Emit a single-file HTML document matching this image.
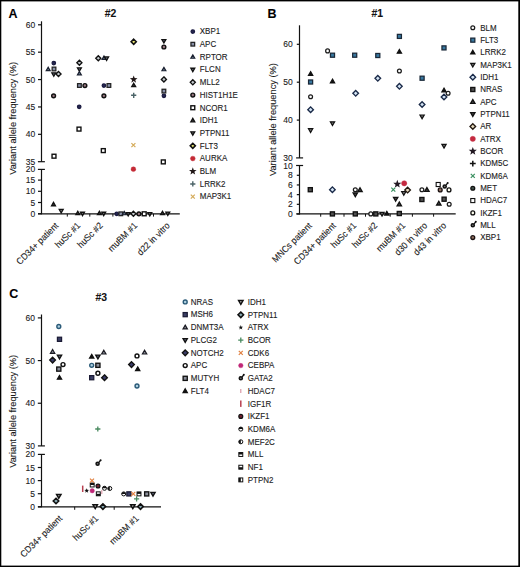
<!DOCTYPE html>
<html><head><meta charset="utf-8"><style>
html,body{margin:0;padding:0;background:#fff;}
svg{display:block;font-family:"Liberation Sans", sans-serif;}
text{stroke:#1a1a1a;stroke-width:0.1px;}
</style></head><body>
<svg width="520" height="567" viewBox="0 0 520 567">
<rect x="0" y="0" width="520" height="567" fill="#fff"/>
<text x="0" y="0" font-size="12.5" text-anchor="start" font-weight="bold" fill="#000" transform="translate(8.6 17.6) scale(1 1.07)">A</text>
<text x="0" y="0" font-size="10.4" text-anchor="middle" font-weight="bold" fill="#111" transform="translate(110.5 16.9) scale(1 1.07)">#2</text>
<path d="M41.5 21.3L41.5 161.7" stroke="#111" stroke-width="1.2" fill="none"/>
<path d="M41.5 169.4L41.5 214.3" stroke="#111" stroke-width="1.2" fill="none"/>
<path d="M37.9 161.7L44.9 161.7" stroke="#111" stroke-width="1.2" fill="none"/>
<path d="M37.9 169.4L44.9 169.4" stroke="#111" stroke-width="1.2" fill="none"/>
<path d="M38 24.8L41.5 24.8" stroke="#111" stroke-width="1.2" fill="none"/>
<text x="0" y="0" font-size="8.5" text-anchor="end" fill="#1a1a1a" transform="translate(35.2 27.8) scale(1 1.07)">60</text>
<path d="M38 52.18L41.5 52.18" stroke="#111" stroke-width="1.2" fill="none"/>
<text x="0" y="0" font-size="8.5" text-anchor="end" fill="#1a1a1a" transform="translate(35.2 55.18) scale(1 1.07)">55</text>
<path d="M38 79.56L41.5 79.56" stroke="#111" stroke-width="1.2" fill="none"/>
<text x="0" y="0" font-size="8.5" text-anchor="end" fill="#1a1a1a" transform="translate(35.2 82.56) scale(1 1.07)">50</text>
<path d="M38 106.94L41.5 106.94" stroke="#111" stroke-width="1.2" fill="none"/>
<text x="0" y="0" font-size="8.5" text-anchor="end" fill="#1a1a1a" transform="translate(35.2 109.94) scale(1 1.07)">45</text>
<path d="M38 134.32L41.5 134.32" stroke="#111" stroke-width="1.2" fill="none"/>
<text x="0" y="0" font-size="8.5" text-anchor="end" fill="#1a1a1a" transform="translate(35.2 137.32) scale(1 1.07)">40</text>
<text x="0" y="0" font-size="8.5" text-anchor="end" fill="#1a1a1a" transform="translate(35.2 164.7) scale(1 1.07)">35</text>
<text x="0" y="0" font-size="8.5" text-anchor="end" fill="#1a1a1a" transform="translate(35.2 172.4) scale(1 1.07)">20</text>
<path d="M38 180.1L41.5 180.1" stroke="#111" stroke-width="1.2" fill="none"/>
<text x="0" y="0" font-size="8.5" text-anchor="end" fill="#1a1a1a" transform="translate(35.2 183.1) scale(1 1.07)">15</text>
<path d="M38 191.3L41.5 191.3" stroke="#111" stroke-width="1.2" fill="none"/>
<text x="0" y="0" font-size="8.5" text-anchor="end" fill="#1a1a1a" transform="translate(35.2 194.3) scale(1 1.07)">10</text>
<path d="M38 202.5L41.5 202.5" stroke="#111" stroke-width="1.2" fill="none"/>
<text x="0" y="0" font-size="8.5" text-anchor="end" fill="#1a1a1a" transform="translate(35.2 205.5) scale(1 1.07)">5</text>
<path d="M38 213.7L41.5 213.7" stroke="#111" stroke-width="1.2" fill="none"/>
<text x="0" y="0" font-size="8.5" text-anchor="end" fill="#1a1a1a" transform="translate(35.2 216.7) scale(1 1.07)">0</text>
<path d="M38 213.8L179.8 213.8" stroke="#111" stroke-width="1.35" fill="none"/>
<path d="M67.3 213.8L67.3 216.6" stroke="#111" stroke-width="1.0" fill="none"/>
<path d="M89.8 213.8L89.8 216.6" stroke="#111" stroke-width="1.0" fill="none"/>
<path d="M112.9 213.8L112.9 216.6" stroke="#111" stroke-width="1.0" fill="none"/>
<path d="M153.5 213.8L153.5 216.6" stroke="#111" stroke-width="1.0" fill="none"/>
<text x="0" y="0" font-size="9.27" text-anchor="middle" fill="#1a1a1a" transform="translate(16.3 118.3) rotate(-90) scale(1 1.07)">Variant allele frequency (%)</text>
<text x="0" y="0" font-size="8.6" text-anchor="end" fill="#1a1a1a" transform="translate(59 226.2) rotate(-45) scale(1 1.07)">CD34+ patient</text>
<text x="0" y="0" font-size="8.6" text-anchor="end" fill="#1a1a1a" transform="translate(81 226.2) rotate(-45) scale(1 1.07)">huSc #1</text>
<text x="0" y="0" font-size="8.6" text-anchor="end" fill="#1a1a1a" transform="translate(103.3 226.2) rotate(-45) scale(1 1.07)">huSc #2</text>
<text x="0" y="0" font-size="8.6" text-anchor="end" fill="#1a1a1a" transform="translate(137.8 226.2) rotate(-45) scale(1 1.07)">muBM #1</text>
<text x="0" y="0" font-size="8.6" text-anchor="end" fill="#1a1a1a" transform="translate(170.5 226.2) rotate(-45) scale(1 1.07)">d22 in vitro</text>
<circle cx="192.8" cy="31.5" r="1.75" fill="#262850" stroke="#1a1a40" stroke-width="1.25"/>
<text x="0" y="0" font-size="8.0" text-anchor="start" fill="#1a1a1a" transform="translate(199.8 34.3) scale(1 1.07)">XBP1</text>
<rect x="190.95" y="42.35" width="3.7" height="3.7" fill="#8890a8" stroke="#222" stroke-width="1.25"/>
<text x="0" y="0" font-size="8.0" text-anchor="start" fill="#1a1a1a" transform="translate(199.8 47) scale(1 1.07)">APC</text>
<polygon points="192.8,54.88 194.75,58.26 190.85,58.26" fill="#6e8090" stroke="#1a2030" stroke-width="1.2" stroke-linejoin="miter"/>
<text x="0" y="0" font-size="8.0" text-anchor="start" fill="#1a1a1a" transform="translate(199.8 59.71) scale(1 1.07)">RPTOR</text>
<polygon points="192.8,71.64 194.75,68.26 190.85,68.26" fill="#6a7282" stroke="#111" stroke-width="1.3"/>
<text x="0" y="0" font-size="8.0" text-anchor="start" fill="#1a1a1a" transform="translate(199.8 72.42) scale(1 1.07)">FLCN</text>
<polygon points="192.8,79.77 195.35,82.32 192.8,84.87 190.25,82.32" fill="#c4cace" stroke="#111" stroke-width="1.35"/>
<text x="0" y="0" font-size="8.0" text-anchor="start" fill="#1a1a1a" transform="translate(199.8 85.12) scale(1 1.07)">MLL2</text>
<circle cx="192.8" cy="95.03" r="1.9" fill="#987880" stroke="#111" stroke-width="1.45"/>
<text x="0" y="0" font-size="8.0" text-anchor="start" fill="#1a1a1a" transform="translate(199.8 97.83) scale(1 1.07)">HIST1H1E</text>
<rect x="190.85" y="105.78" width="3.9" height="3.9" fill="#fff" stroke="#111" stroke-width="1.4"/>
<text x="0" y="0" font-size="8.0" text-anchor="start" fill="#1a1a1a" transform="translate(199.8 110.53) scale(1 1.07)">NCOR1</text>
<polygon points="192.8,118.41 194.75,121.79 190.85,121.79" fill="#333" stroke="#111" stroke-width="1.3" stroke-linejoin="miter"/>
<text x="0" y="0" font-size="8.0" text-anchor="start" fill="#1a1a1a" transform="translate(199.8 123.23) scale(1 1.07)">IDH1</text>
<polygon points="192.8,135.17 194.75,131.79 190.85,131.79" fill="#777" stroke="#111" stroke-width="1.3"/>
<text x="0" y="0" font-size="8.0" text-anchor="start" fill="#1a1a1a" transform="translate(199.8 135.94) scale(1 1.07)">PTPN11</text>
<polygon points="192.8,143.29 195.35,145.84 192.8,148.4 190.25,145.84" fill="#e8e470" stroke="#111" stroke-width="1.6"/>
<text x="0" y="0" font-size="8.0" text-anchor="start" fill="#1a1a1a" transform="translate(199.8 148.65) scale(1 1.07)">FLT3</text>
<circle cx="192.8" cy="158.55" r="2.4" fill="#c42a36" stroke="#c42a36" stroke-width="0.4"/>
<text x="0" y="0" font-size="8.0" text-anchor="start" fill="#1a1a1a" transform="translate(199.8 161.35) scale(1 1.07)">AURKA</text>
<polygon points="192.8,167.25 193.79,169.9 196.6,170.02 194.4,171.77 195.15,174.49 192.8,172.94 190.45,174.49 191.2,171.77 189,170.02 191.81,169.9" fill="#221818"/>
<text x="0" y="0" font-size="8.0" text-anchor="start" fill="#1a1a1a" transform="translate(199.8 174.06) scale(1 1.07)">BLM</text>
<path d="M190.2 183.96H195.4M192.8 181.36V186.56" stroke="#4c6468" stroke-width="1.4" fill="none"/>
<text x="0" y="0" font-size="8.0" text-anchor="start" fill="#1a1a1a" transform="translate(199.8 186.76) scale(1 1.07)">LRRK2</text>
<path d="M190.8 194.66L194.8 198.66M190.8 198.66L194.8 194.66" stroke="#d4aa58" stroke-width="1.2" fill="none"/>
<text x="0" y="0" font-size="8.0" text-anchor="start" fill="#1a1a1a" transform="translate(199.8 199.47) scale(1 1.07)">MAP3K1</text>
<circle cx="53.8" cy="63" r="1.75" fill="#262850" stroke="#1a1a40" stroke-width="1.25"/>
<polygon points="48.2,67.27 50.15,70.65 46.25,70.65" fill="#6e8090" stroke="#1a2030" stroke-width="1.2" stroke-linejoin="miter"/>
<rect x="52.15" y="67.15" width="3.7" height="3.7" fill="#8890a8" stroke="#222" stroke-width="1.25"/>
<polygon points="53.8,76.23 55.75,72.85 51.85,72.85" fill="#6a7282" stroke="#111" stroke-width="1.3"/>
<polygon points="58.5,71.45 61.05,74 58.5,76.55 55.95,74" fill="#c4cace" stroke="#111" stroke-width="1.35"/>
<circle cx="53.6" cy="95.8" r="1.9" fill="#987880" stroke="#111" stroke-width="1.45"/>
<rect x="52.05" y="154.25" width="3.9" height="3.9" fill="#fff" stroke="#111" stroke-width="1.4"/>
<polygon points="53.5,202.37 55.45,205.75 51.55,205.75" fill="#333" stroke="#111" stroke-width="1.3" stroke-linejoin="miter"/>
<polygon points="61.2,212.83 63.15,209.45 59.25,209.45" fill="#777" stroke="#111" stroke-width="1.3"/>
<polygon points="79.4,60.15 81.95,62.7 79.4,65.25 76.85,62.7" fill="#c4cace" stroke="#111" stroke-width="1.35"/>
<polygon points="79.4,71.23 81.35,67.85 77.45,67.85" fill="#6a7282" stroke="#111" stroke-width="1.3"/>
<polygon points="79.4,71.47 81.35,74.85 77.45,74.85" fill="#6e8090" stroke="#1a2030" stroke-width="1.2" stroke-linejoin="miter"/>
<rect x="77.55" y="83.65" width="3.7" height="3.7" fill="#8890a8" stroke="#222" stroke-width="1.25"/>
<circle cx="84.9" cy="85.5" r="1.9" fill="#987880" stroke="#111" stroke-width="1.45"/>
<circle cx="79.2" cy="106.8" r="1.75" fill="#262850" stroke="#1a1a40" stroke-width="1.25"/>
<rect x="77.05" y="127.15" width="3.9" height="3.9" fill="#fff" stroke="#111" stroke-width="1.4"/>
<polygon points="77.8,211.27 79.75,214.65 75.85,214.65" fill="#333" stroke="#111" stroke-width="1.3" stroke-linejoin="miter"/>
<polygon points="82.5,215.63 84.45,212.25 80.55,212.25" fill="#777" stroke="#111" stroke-width="1.3"/>
<polygon points="98.3,55.65 100.85,58.2 98.3,60.75 95.75,58.2" fill="#c4cace" stroke="#111" stroke-width="1.35"/>
<polygon points="104,55.97 105.95,59.35 102.05,59.35" fill="#6e8090" stroke="#1a2030" stroke-width="1.2" stroke-linejoin="miter"/>
<polygon points="106.6,60.33 108.55,56.95 104.65,56.95" fill="#6a7282" stroke="#111" stroke-width="1.3"/>
<circle cx="103.9" cy="85.5" r="1.75" fill="#262850" stroke="#1a1a40" stroke-width="1.25"/>
<rect x="107.05" y="83.65" width="3.7" height="3.7" fill="#8890a8" stroke="#222" stroke-width="1.25"/>
<circle cx="103.9" cy="95.8" r="1.9" fill="#987880" stroke="#111" stroke-width="1.45"/>
<rect x="101.35" y="148.65" width="3.9" height="3.9" fill="#fff" stroke="#111" stroke-width="1.4"/>
<polygon points="99.4,211.27 101.35,214.65 97.45,214.65" fill="#333" stroke="#111" stroke-width="1.3" stroke-linejoin="miter"/>
<polygon points="103.7,215.63 105.65,212.25 101.75,212.25" fill="#777" stroke="#111" stroke-width="1.3"/>
<polygon points="133.7,39.25 136.25,41.8 133.7,44.35 131.15,41.8" fill="#e8e470" stroke="#111" stroke-width="1.6"/>
<polygon points="133.7,75.4 134.69,78.04 137.5,78.16 135.3,79.92 136.05,82.64 133.7,81.08 131.35,82.64 132.1,79.92 129.9,78.16 132.71,78.04" fill="#221818"/>
<polygon points="133.7,83.27 135.65,86.65 131.75,86.65" fill="#333" stroke="#111" stroke-width="1.3" stroke-linejoin="miter"/>
<path d="M131.1 95.3H136.3M133.7 92.7V97.9" stroke="#4c6468" stroke-width="1.4" fill="none"/>
<path d="M131.4 143.2L135.4 147.2M131.4 147.2L135.4 143.2" stroke="#d4aa58" stroke-width="1.2" fill="none"/>
<circle cx="133.4" cy="169.2" r="2.4" fill="#c42a36" stroke="#c42a36" stroke-width="0.4"/>
<circle cx="116.7" cy="213.8" r="1.75" fill="#262850" stroke="#1a1a40" stroke-width="1.25"/>
<rect x="118.95" y="211.95" width="3.7" height="3.7" fill="#8890a8" stroke="#222" stroke-width="1.25"/>
<polygon points="124.2,211.37 126.15,214.75 122.25,214.75" fill="#6e8090" stroke="#1a2030" stroke-width="1.2" stroke-linejoin="miter"/>
<polygon points="128.2,215.93 130.15,212.55 126.25,212.55" fill="#6a7282" stroke="#111" stroke-width="1.3"/>
<polygon points="133.4,211.25 135.95,213.8 133.4,216.35 130.85,213.8" fill="#c4cace" stroke="#111" stroke-width="1.35"/>
<circle cx="138.9" cy="213.8" r="1.9" fill="#987880" stroke="#111" stroke-width="1.45"/>
<rect x="142.25" y="211.85" width="3.9" height="3.9" fill="#fff" stroke="#111" stroke-width="1.4"/>
<polygon points="149.8,215.93 151.75,212.55 147.85,212.55" fill="#777" stroke="#111" stroke-width="1.3"/>
<polygon points="163.9,42.93 165.85,39.55 161.95,39.55" fill="#6a7282" stroke="#111" stroke-width="1.3"/>
<circle cx="163.9" cy="47" r="1.9" fill="#987880" stroke="#111" stroke-width="1.45"/>
<polygon points="163.9,67.37 165.85,70.75 161.95,70.75" fill="#6e8090" stroke="#1a2030" stroke-width="1.2" stroke-linejoin="miter"/>
<polygon points="163.9,76.85 166.45,79.4 163.9,81.95 161.35,79.4" fill="#c4cace" stroke="#111" stroke-width="1.35"/>
<rect x="162.05" y="89.25" width="3.7" height="3.7" fill="#8890a8" stroke="#222" stroke-width="1.25"/>
<circle cx="163.9" cy="95.8" r="1.75" fill="#262850" stroke="#1a1a40" stroke-width="1.25"/>
<rect x="161.35" y="159.95" width="3.9" height="3.9" fill="#fff" stroke="#111" stroke-width="1.4"/>
<polygon points="162.5,211.27 164.45,214.65 160.55,214.65" fill="#333" stroke="#111" stroke-width="1.3" stroke-linejoin="miter"/>
<polygon points="167.8,215.43 169.75,212.05 165.85,212.05" fill="#777" stroke="#111" stroke-width="1.3"/>
<text x="0" y="0" font-size="12.5" text-anchor="start" font-weight="bold" fill="#000" transform="translate(267.6 18.3) scale(1 1.07)">B</text>
<text x="0" y="0" font-size="10.4" text-anchor="middle" font-weight="bold" fill="#111" transform="translate(377.2 17) scale(1 1.07)">#1</text>
<path d="M299.5 25.3L299.5 157.9" stroke="#111" stroke-width="1.2" fill="none"/>
<path d="M299.5 165.6L299.5 214.5" stroke="#111" stroke-width="1.2" fill="none"/>
<path d="M296.1 157.9L303.1 157.9" stroke="#111" stroke-width="1.2" fill="none"/>
<path d="M296.1 165.5L303.1 165.5" stroke="#111" stroke-width="1.2" fill="none"/>
<path d="M296.8 44.3L299.5 44.3" stroke="#111" stroke-width="1.2" fill="none"/>
<text x="0" y="0" font-size="8.5" text-anchor="end" fill="#1a1a1a" transform="translate(292.8 47.3) scale(1 1.07)">60</text>
<path d="M296.8 82.2L299.5 82.2" stroke="#111" stroke-width="1.2" fill="none"/>
<text x="0" y="0" font-size="8.5" text-anchor="end" fill="#1a1a1a" transform="translate(292.8 85.2) scale(1 1.07)">50</text>
<path d="M296.8 120.1L299.5 120.1" stroke="#111" stroke-width="1.2" fill="none"/>
<text x="0" y="0" font-size="8.5" text-anchor="end" fill="#1a1a1a" transform="translate(292.8 123.1) scale(1 1.07)">40</text>
<text x="0" y="0" font-size="8.5" text-anchor="end" fill="#1a1a1a" transform="translate(292.8 160.9) scale(1 1.07)">30</text>
<text x="0" y="0" font-size="8.5" text-anchor="end" fill="#1a1a1a" transform="translate(292.8 168.5) scale(1 1.07)">10</text>
<path d="M296.8 175.28L299.5 175.28" stroke="#111" stroke-width="1.2" fill="none"/>
<text x="0" y="0" font-size="8.5" text-anchor="end" fill="#1a1a1a" transform="translate(292.8 178.28) scale(1 1.07)">8</text>
<path d="M296.8 184.96L299.5 184.96" stroke="#111" stroke-width="1.2" fill="none"/>
<text x="0" y="0" font-size="8.5" text-anchor="end" fill="#1a1a1a" transform="translate(292.8 187.96) scale(1 1.07)">6</text>
<path d="M296.8 194.64L299.5 194.64" stroke="#111" stroke-width="1.2" fill="none"/>
<text x="0" y="0" font-size="8.5" text-anchor="end" fill="#1a1a1a" transform="translate(292.8 197.64) scale(1 1.07)">4</text>
<path d="M296.8 204.32L299.5 204.32" stroke="#111" stroke-width="1.2" fill="none"/>
<text x="0" y="0" font-size="8.5" text-anchor="end" fill="#1a1a1a" transform="translate(292.8 207.32) scale(1 1.07)">2</text>
<path d="M296.8 214L299.5 214" stroke="#111" stroke-width="1.2" fill="none"/>
<text x="0" y="0" font-size="8.5" text-anchor="end" fill="#1a1a1a" transform="translate(292.8 217) scale(1 1.07)">0</text>
<path d="M296.2 213.8L455.7 213.8" stroke="#111" stroke-width="1.35" fill="none"/>
<path d="M320.7 213.9L320.7 216.7" stroke="#111" stroke-width="1.0" fill="none"/>
<path d="M344 213.9L344 216.7" stroke="#111" stroke-width="1.0" fill="none"/>
<path d="M365.5 213.9L365.5 216.7" stroke="#111" stroke-width="1.0" fill="none"/>
<path d="M390.2 213.9L390.2 216.7" stroke="#111" stroke-width="1.0" fill="none"/>
<path d="M412.4 213.9L412.4 216.7" stroke="#111" stroke-width="1.0" fill="none"/>
<path d="M433.6 213.9L433.6 216.7" stroke="#111" stroke-width="1.0" fill="none"/>
<text x="0" y="0" font-size="9.27" text-anchor="middle" fill="#1a1a1a" transform="translate(275.7 119.6) rotate(-90) scale(1 1.07)">Variant allele frequency (%)</text>
<text x="0" y="0" font-size="8.6" text-anchor="end" fill="#1a1a1a" transform="translate(312.5 226.2) rotate(-45) scale(1 1.07)">MNCs patient</text>
<text x="0" y="0" font-size="8.6" text-anchor="end" fill="#1a1a1a" transform="translate(336.5 226.2) rotate(-45) scale(1 1.07)">CD34+ patient</text>
<text x="0" y="0" font-size="8.6" text-anchor="end" fill="#1a1a1a" transform="translate(356.8 226.2) rotate(-45) scale(1 1.07)">huSc #1</text>
<text x="0" y="0" font-size="8.6" text-anchor="end" fill="#1a1a1a" transform="translate(378 226.2) rotate(-45) scale(1 1.07)">huSc #2</text>
<text x="0" y="0" font-size="8.6" text-anchor="end" fill="#1a1a1a" transform="translate(406 226.2) rotate(-45) scale(1 1.07)">muBM #1</text>
<text x="0" y="0" font-size="8.6" text-anchor="end" fill="#1a1a1a" transform="translate(428 226.2) rotate(-45) scale(1 1.07)">d30 in vitro</text>
<text x="0" y="0" font-size="8.6" text-anchor="end" fill="#1a1a1a" transform="translate(446.8 226.2) rotate(-45) scale(1 1.07)">d43 in vitro</text>
<circle cx="472.8" cy="27.8" r="1.93" fill="#fff" stroke="#1a1a1a" stroke-width="1.25"/>
<text x="0" y="0" font-size="8.0" text-anchor="start" fill="#1a1a1a" transform="translate(480.2 30.6) scale(1 1.07)">BLM</text>
<rect x="470.76" y="38.11" width="4.07" height="4.07" fill="#3878a0" stroke="#1a2838" stroke-width="1.25"/>
<text x="0" y="0" font-size="8.0" text-anchor="start" fill="#1a1a1a" transform="translate(480.2 42.94) scale(1 1.07)">FLT3</text>
<polygon points="472.8,50.25 474.94,53.97 470.66,53.97" fill="#111" stroke="#111" stroke-width="1.2" stroke-linejoin="miter"/>
<text x="0" y="0" font-size="8.0" text-anchor="start" fill="#1a1a1a" transform="translate(480.2 55.28) scale(1 1.07)">LRRK2</text>
<polygon points="472.8,67.05 474.94,63.33 470.66,63.33" fill="#707070" stroke="#111" stroke-width="1.2"/>
<text x="0" y="0" font-size="8.0" text-anchor="start" fill="#1a1a1a" transform="translate(480.2 67.62) scale(1 1.07)">MAP3K1</text>
<polygon points="472.8,74.35 475.61,77.16 472.8,79.97 470,77.16" fill="#d4e4f4" stroke="#1a2a48" stroke-width="1.35"/>
<text x="0" y="0" font-size="8.0" text-anchor="start" fill="#1a1a1a" transform="translate(480.2 79.96) scale(1 1.07)">IDH1</text>
<rect x="470.76" y="87.47" width="4.07" height="4.07" fill="#505050" stroke="#111" stroke-width="1.35"/>
<text x="0" y="0" font-size="8.0" text-anchor="start" fill="#1a1a1a" transform="translate(480.2 92.3) scale(1 1.07)">NRAS</text>
<polygon points="472.8,99.61 474.94,103.33 470.66,103.33" fill="#4a4a4a" stroke="#111" stroke-width="1.35" stroke-linejoin="miter"/>
<text x="0" y="0" font-size="8.0" text-anchor="start" fill="#1a1a1a" transform="translate(480.2 104.64) scale(1 1.07)">APC</text>
<polygon points="472.8,116.41 474.94,112.69 470.66,112.69" fill="#4a4a4a" stroke="#111" stroke-width="1.35"/>
<text x="0" y="0" font-size="8.0" text-anchor="start" fill="#1a1a1a" transform="translate(480.2 116.98) scale(1 1.07)">PTPN11</text>
<polygon points="472.8,123.71 475.61,126.52 472.8,129.32 470,126.52" fill="#e8dcc0" stroke="#221810" stroke-width="1.35"/>
<text x="0" y="0" font-size="8.0" text-anchor="start" fill="#1a1a1a" transform="translate(480.2 129.32) scale(1 1.07)">AR</text>
<circle cx="472.8" cy="138.86" r="2.64" fill="#c42a40" stroke="#c42a40" stroke-width="0.4"/>
<text x="0" y="0" font-size="8.0" text-anchor="start" fill="#1a1a1a" transform="translate(480.2 141.66) scale(1 1.07)">ATRX</text>
<polygon points="472.8,146.91 473.86,149.74 476.88,149.87 474.51,151.76 475.32,154.67 472.8,153 470.28,154.67 471.09,151.76 468.72,149.87 471.74,149.74" fill="#221822"/>
<text x="0" y="0" font-size="8.0" text-anchor="start" fill="#1a1a1a" transform="translate(480.2 154) scale(1 1.07)">BCOR</text>
<path d="M469.9 163.54H475.7M472.8 160.64V166.44" stroke="#111" stroke-width="1.5" fill="none"/>
<text x="0" y="0" font-size="8.0" text-anchor="start" fill="#1a1a1a" transform="translate(480.2 166.34) scale(1 1.07)">KDM5C</text>
<path d="M470.8 173.88L474.8 177.88M470.8 177.88L474.8 173.88" stroke="#3a9060" stroke-width="1.2" fill="none"/>
<text x="0" y="0" font-size="8.0" text-anchor="start" fill="#1a1a1a" transform="translate(480.2 178.68) scale(1 1.07)">KDM6A</text>
<circle cx="472.8" cy="188.22" r="1.93" fill="#40504a" stroke="#111" stroke-width="1.3"/>
<text x="0" y="0" font-size="8.0" text-anchor="start" fill="#1a1a1a" transform="translate(480.2 191.02) scale(1 1.07)">MET</text>
<rect x="470.76" y="198.53" width="4.07" height="4.07" fill="#fff" stroke="#111" stroke-width="1.1"/>
<text x="0" y="0" font-size="8.0" text-anchor="start" fill="#1a1a1a" transform="translate(480.2 203.36) scale(1 1.07)">HDAC7</text>
<circle cx="472.8" cy="212.9" r="1.93" fill="#fffff0" stroke="#111" stroke-width="1.3"/>
<text x="0" y="0" font-size="8.0" text-anchor="start" fill="#1a1a1a" transform="translate(480.2 215.7) scale(1 1.07)">IKZF1</text>
<circle cx="472.8" cy="225.24" r="1.55" fill="#777" stroke="#111" stroke-width="1.5"/>
<path d="M474.1 223.94L475.7 221.84" stroke="#111" stroke-width="1.3"/>
<circle cx="475.8" cy="221.74" r="1.0" fill="#111"/>
<text x="0" y="0" font-size="8.0" text-anchor="start" fill="#1a1a1a" transform="translate(480.2 228.04) scale(1 1.07)">MLL</text>
<circle cx="472.8" cy="237.58" r="1.93" fill="#907060" stroke="#1a1010" stroke-width="1.3"/>
<text x="0" y="0" font-size="8.0" text-anchor="start" fill="#1a1a1a" transform="translate(480.2 240.38) scale(1 1.07)">XBP1</text>
<polygon points="310.6,71.67 312.75,75.39 308.46,75.39" fill="#111" stroke="#111" stroke-width="1.2" stroke-linejoin="miter"/>
<rect x="308.56" y="79.97" width="4.07" height="4.07" fill="#3878a0" stroke="#1a2838" stroke-width="1.25"/>
<circle cx="310.6" cy="96.7" r="1.93" fill="#fff" stroke="#1a1a1a" stroke-width="1.25"/>
<polygon points="310.6,106.89 313.41,109.7 310.6,112.51 307.8,109.7" fill="#d4e4f4" stroke="#1a2a48" stroke-width="1.35"/>
<polygon points="310.6,132.43 312.75,128.71 308.46,128.71" fill="#707070" stroke="#111" stroke-width="1.2"/>
<rect x="308.26" y="187.66" width="4.07" height="4.07" fill="#505050" stroke="#111" stroke-width="1.35"/>
<circle cx="327.6" cy="50.9" r="1.93" fill="#fff" stroke="#1a1a1a" stroke-width="1.25"/>
<rect x="330.46" y="53.17" width="4.07" height="4.07" fill="#3878a0" stroke="#1a2838" stroke-width="1.25"/>
<polygon points="332.5,79.17 334.64,82.89 330.36,82.89" fill="#111" stroke="#111" stroke-width="1.2" stroke-linejoin="miter"/>
<polygon points="332.5,125.53 334.64,121.81 330.36,121.81" fill="#707070" stroke="#111" stroke-width="1.2"/>
<polygon points="332.4,186.89 335.2,189.7 332.4,192.5 329.59,189.7" fill="#d4e4f4" stroke="#1a2a48" stroke-width="1.35"/>
<rect x="330.36" y="211.87" width="4.07" height="4.07" fill="#505050" stroke="#111" stroke-width="1.35"/>
<rect x="352.66" y="53.17" width="4.07" height="4.07" fill="#3878a0" stroke="#1a2838" stroke-width="1.25"/>
<polygon points="355.7,90.49 358.5,93.3 355.7,96.11 352.89,93.3" fill="#d4e4f4" stroke="#1a2a48" stroke-width="1.35"/>
<circle cx="355.3" cy="189.7" r="1.93" fill="#fff" stroke="#1a1a1a" stroke-width="1.25"/>
<polygon points="360,187.77 362.14,191.49 357.86,191.49" fill="#4a4a4a" stroke="#111" stroke-width="1.35" stroke-linejoin="miter"/>
<polygon points="355.3,196.73 357.44,193.01 353.16,193.01" fill="#4a4a4a" stroke="#111" stroke-width="1.35"/>
<rect x="353.26" y="211.87" width="4.07" height="4.07" fill="#505050" stroke="#111" stroke-width="1.35"/>
<rect x="375.76" y="53.47" width="4.07" height="4.07" fill="#3878a0" stroke="#1a2838" stroke-width="1.25"/>
<polygon points="377.8,75.49 380.61,78.3 377.8,81.11 375,78.3" fill="#d4e4f4" stroke="#1a2a48" stroke-width="1.35"/>
<circle cx="370.8" cy="213.9" r="1.93" fill="#fff" stroke="#1a1a1a" stroke-width="1.25"/>
<rect x="373.76" y="211.87" width="4.07" height="4.07" fill="#505050" stroke="#111" stroke-width="1.35"/>
<polygon points="382,216.13 384.14,212.41 379.86,212.41" fill="#707070" stroke="#111" stroke-width="1.2"/>
<polygon points="386.8,211.37 388.94,215.09 384.66,215.09" fill="#111" stroke="#111" stroke-width="1.2" stroke-linejoin="miter"/>
<rect x="397.36" y="34.36" width="4.07" height="4.07" fill="#3878a0" stroke="#1a2838" stroke-width="1.25"/>
<polygon points="399.4,49.47 401.54,53.19 397.25,53.19" fill="#111" stroke="#111" stroke-width="1.2" stroke-linejoin="miter"/>
<circle cx="399.4" cy="71" r="1.93" fill="#fff" stroke="#1a1a1a" stroke-width="1.25"/>
<polygon points="399.4,83.49 402.2,86.3 399.4,89.11 396.59,86.3" fill="#d4e4f4" stroke="#1a2a48" stroke-width="1.35"/>
<polygon points="397.3,179.81 398.36,182.64 401.38,182.77 399.01,184.66 399.82,187.57 397.3,185.9 394.78,187.57 395.59,184.66 393.22,182.77 396.24,182.64" fill="#221822"/>
<circle cx="404.2" cy="183.3" r="2.64" fill="#c42a40" stroke="#c42a40" stroke-width="0.4"/>
<path d="M391.3 187.7L395.3 191.7M391.3 191.7L395.3 187.7" stroke="#3a9060" stroke-width="1.2" fill="none"/>
<polygon points="403.8,195.23 405.94,191.51 401.66,191.51" fill="#707070" stroke="#111" stroke-width="1.2"/>
<polygon points="407.6,187.29 410.41,190.1 407.6,192.91 404.8,190.1" fill="#e8dcc0" stroke="#221810" stroke-width="1.35"/>
<polygon points="395.7,201.03 397.84,197.31 393.56,197.31" fill="#4a4a4a" stroke="#111" stroke-width="1.35"/>
<polygon points="399.3,202.17 401.44,205.89 397.16,205.89" fill="#4a4a4a" stroke="#111" stroke-width="1.35" stroke-linejoin="miter"/>
<rect x="397.26" y="211.47" width="4.07" height="4.07" fill="#505050" stroke="#111" stroke-width="1.35"/>
<rect x="420.06" y="76.17" width="4.07" height="4.07" fill="#3878a0" stroke="#1a2838" stroke-width="1.25"/>
<polygon points="422.1,101.69 424.91,104.5 422.1,107.31 419.3,104.5" fill="#d4e4f4" stroke="#1a2a48" stroke-width="1.35"/>
<polygon points="422.1,118.73 424.25,115.01 419.96,115.01" fill="#707070" stroke="#111" stroke-width="1.2"/>
<circle cx="421.9" cy="189.7" r="1.93" fill="#fff" stroke="#1a1a1a" stroke-width="1.25"/>
<polygon points="426.9,187.67 429.04,191.39 424.75,191.39" fill="#4a4a4a" stroke="#111" stroke-width="1.35" stroke-linejoin="miter"/>
<rect x="419.86" y="197.47" width="4.07" height="4.07" fill="#505050" stroke="#111" stroke-width="1.35"/>
<rect x="441.96" y="45.86" width="4.07" height="4.07" fill="#3878a0" stroke="#1a2838" stroke-width="1.25"/>
<polygon points="444,88.17 446.14,91.89 441.86,91.89" fill="#111" stroke="#111" stroke-width="1.2" stroke-linejoin="miter"/>
<circle cx="448.1" cy="93.3" r="1.93" fill="#fff" stroke="#1a1a1a" stroke-width="1.25"/>
<polygon points="444,94.19 446.81,97 444,99.81 441.19,97" fill="#d4e4f4" stroke="#1a2a48" stroke-width="1.35"/>
<polygon points="444,148.13 446.14,144.41 441.86,144.41" fill="#707070" stroke="#111" stroke-width="1.2"/>
<rect x="436.16" y="182.47" width="4.07" height="4.07" fill="#fff" stroke="#111" stroke-width="1.1"/>
<circle cx="440.2" cy="189.9" r="1.93" fill="#907060" stroke="#1a1010" stroke-width="1.3"/>
<circle cx="444.7" cy="186.5" r="1.55" fill="#777" stroke="#111" stroke-width="1.5"/>
<path d="M446 185.2L447.6 183.1" stroke="#111" stroke-width="1.3"/>
<circle cx="447.7" cy="183" r="1.0" fill="#111"/>
<circle cx="449" cy="189.9" r="1.93" fill="#fffff0" stroke="#111" stroke-width="1.3"/>
<polygon points="438.8,201.27 440.94,204.99 436.66,204.99" fill="#4a4a4a" stroke="#111" stroke-width="1.35" stroke-linejoin="miter"/>
<rect x="442.06" y="197.16" width="4.07" height="4.07" fill="#505050" stroke="#111" stroke-width="1.35"/>
<circle cx="449.2" cy="204.3" r="1.93" fill="#fff" stroke="#1a1a1a" stroke-width="1.25"/>
<text x="0" y="0" font-size="12.5" text-anchor="start" font-weight="bold" fill="#000" transform="translate(9.3 298.3) scale(1 1.07)">C</text>
<text x="0" y="0" font-size="10.4" text-anchor="middle" font-weight="bold" fill="#111" transform="translate(101.3 301.4) scale(1 1.07)">#3</text>
<path d="M41.5 314.5L41.5 445.9" stroke="#111" stroke-width="1.2" fill="none"/>
<path d="M41.5 454.4L41.5 507.2" stroke="#111" stroke-width="1.2" fill="none"/>
<path d="M37.9 445.9L44.9 445.9" stroke="#111" stroke-width="1.2" fill="none"/>
<path d="M37.9 454.4L44.9 454.4" stroke="#111" stroke-width="1.2" fill="none"/>
<path d="M37.8 317.9L41.5 317.9" stroke="#111" stroke-width="1.2" fill="none"/>
<text x="0" y="0" font-size="8.5" text-anchor="end" fill="#1a1a1a" transform="translate(35 320.9) scale(1 1.07)">60</text>
<path d="M37.8 360.57L41.5 360.57" stroke="#111" stroke-width="1.2" fill="none"/>
<text x="0" y="0" font-size="8.5" text-anchor="end" fill="#1a1a1a" transform="translate(35 363.57) scale(1 1.07)">50</text>
<path d="M37.8 403.24L41.5 403.24" stroke="#111" stroke-width="1.2" fill="none"/>
<text x="0" y="0" font-size="8.5" text-anchor="end" fill="#1a1a1a" transform="translate(35 406.24) scale(1 1.07)">40</text>
<text x="0" y="0" font-size="8.5" text-anchor="end" fill="#1a1a1a" transform="translate(35 448.9) scale(1 1.07)">30</text>
<text x="0" y="0" font-size="8.5" text-anchor="end" fill="#1a1a1a" transform="translate(35 457.4) scale(1 1.07)">20</text>
<path d="M37.8 467.5L41.5 467.5" stroke="#111" stroke-width="1.2" fill="none"/>
<text x="0" y="0" font-size="8.5" text-anchor="end" fill="#1a1a1a" transform="translate(35 470.5) scale(1 1.07)">15</text>
<path d="M37.8 480.6L41.5 480.6" stroke="#111" stroke-width="1.2" fill="none"/>
<text x="0" y="0" font-size="8.5" text-anchor="end" fill="#1a1a1a" transform="translate(35 483.6) scale(1 1.07)">10</text>
<path d="M37.8 493.7L41.5 493.7" stroke="#111" stroke-width="1.2" fill="none"/>
<text x="0" y="0" font-size="8.5" text-anchor="end" fill="#1a1a1a" transform="translate(35 496.7) scale(1 1.07)">5</text>
<path d="M37.8 506.8L41.5 506.8" stroke="#111" stroke-width="1.2" fill="none"/>
<text x="0" y="0" font-size="8.5" text-anchor="end" fill="#1a1a1a" transform="translate(35 509.8) scale(1 1.07)">0</text>
<path d="M38 506.8L161 506.8" stroke="#111" stroke-width="1.35" fill="none"/>
<path d="M74.7 506.8L74.7 509.8" stroke="#111" stroke-width="1.0" fill="none"/>
<path d="M114.2 506.8L114.2 509.8" stroke="#111" stroke-width="1.0" fill="none"/>
<text x="0" y="0" font-size="9.27" text-anchor="middle" fill="#1a1a1a" transform="translate(16.3 411.3) rotate(-90) scale(1 1.07)">Variant allele frequency (%)</text>
<text x="0" y="0" font-size="8.6" text-anchor="end" fill="#1a1a1a" transform="translate(62.9 519) rotate(-45) scale(1 1.07)">CD34+ patient</text>
<text x="0" y="0" font-size="8.6" text-anchor="end" fill="#1a1a1a" transform="translate(98.9 519) rotate(-45) scale(1 1.07)">huSc #1</text>
<text x="0" y="0" font-size="8.6" text-anchor="end" fill="#1a1a1a" transform="translate(139.3 519) rotate(-45) scale(1 1.07)">muBM #1</text>
<circle cx="185.2" cy="301.9" r="1.96" fill="#b0d0e0" stroke="#2a5a78" stroke-width="1.4"/>
<text x="0" y="0" font-size="8.0" text-anchor="start" fill="#1a1a1a" transform="translate(190.8 304.7) scale(1 1.07)">NRAS</text>
<rect x="183.13" y="312.57" width="4.14" height="4.14" fill="#3a3e64" stroke="#1a1a34" stroke-width="1.25"/>
<text x="0" y="0" font-size="8.0" text-anchor="start" fill="#1a1a1a" transform="translate(190.8 317.44) scale(1 1.07)">MSH6</text>
<polygon points="185.2,325.11 187.38,328.89 183.02,328.89" fill="#8a8e98" stroke="#1a1a22" stroke-width="1.2" stroke-linejoin="miter"/>
<text x="0" y="0" font-size="8.0" text-anchor="start" fill="#1a1a1a" transform="translate(190.8 330.18) scale(1 1.07)">DNMT3A</text>
<polygon points="185.2,342.39 187.38,338.61 183.02,338.61" fill="#5a6078" stroke="#111" stroke-width="1.3"/>
<text x="0" y="0" font-size="8.0" text-anchor="start" fill="#1a1a1a" transform="translate(190.8 342.92) scale(1 1.07)">PLCG2</text>
<polygon points="185.2,350 188.06,352.86 185.2,355.72 182.34,352.86" fill="#3a3c68" stroke="#111" stroke-width="1.35"/>
<text x="0" y="0" font-size="8.0" text-anchor="start" fill="#1a1a1a" transform="translate(190.8 355.66) scale(1 1.07)">NOTCH2</text>
<circle cx="185.2" cy="365.6" r="1.96" fill="#fff" stroke="#111" stroke-width="1.45"/>
<text x="0" y="0" font-size="8.0" text-anchor="start" fill="#1a1a1a" transform="translate(190.8 368.4) scale(1 1.07)">APC</text>
<rect x="183.13" y="376.27" width="4.14" height="4.14" fill="#8a8e9a" stroke="#111" stroke-width="1.35"/>
<text x="0" y="0" font-size="8.0" text-anchor="start" fill="#1a1a1a" transform="translate(190.8 381.14) scale(1 1.07)">MUTYH</text>
<polygon points="185.2,388.81 187.38,392.59 183.02,392.59" fill="#111" stroke="#111" stroke-width="1.2" stroke-linejoin="miter"/>
<text x="0" y="0" font-size="8.0" text-anchor="start" fill="#1a1a1a" transform="translate(190.8 393.88) scale(1 1.07)">FLT4</text>
<polygon points="240.8,304.37 242.98,300.59 238.62,300.59" fill="#c8c8c8" stroke="#111" stroke-width="1.5"/>
<text x="0" y="0" font-size="8.0" text-anchor="start" fill="#1a1a1a" transform="translate(247.8 304.9) scale(1 1.07)">IDH1</text>
<polygon points="240.8,312.06 243.54,314.8 240.8,317.54 238.06,314.8" fill="#88aab4" stroke="#111" stroke-width="1.6"/>
<text x="0" y="0" font-size="8.0" text-anchor="start" fill="#1a1a1a" transform="translate(247.8 317.6) scale(1 1.07)">PTPN11</text>
<polygon points="240.8,325.04 241.41,326.66 243.14,326.74 241.78,327.82 242.25,329.49 240.8,328.53 239.35,329.49 239.82,327.82 238.46,326.74 240.19,326.66" fill="#111"/>
<text x="0" y="0" font-size="8.0" text-anchor="start" fill="#1a1a1a" transform="translate(247.8 330.3) scale(1 1.07)">ATRX</text>
<path d="M238.2 340.2H243.4M240.8 337.6V342.8" stroke="#4a8a60" stroke-width="1.3" fill="none"/>
<text x="0" y="0" font-size="8.0" text-anchor="start" fill="#1a1a1a" transform="translate(247.8 343) scale(1 1.07)">BCOR</text>
<path d="M238.8 350.9L242.8 354.9M238.8 354.9L242.8 350.9" stroke="#e08040" stroke-width="1.2" fill="none"/>
<text x="0" y="0" font-size="8.0" text-anchor="start" fill="#1a1a1a" transform="translate(247.8 355.7) scale(1 1.07)">CDK6</text>
<circle cx="240.8" cy="365.6" r="2.24" fill="#c02878" stroke="#c02878" stroke-width="0.4"/>
<text x="0" y="0" font-size="8.0" text-anchor="start" fill="#1a1a1a" transform="translate(247.8 368.4) scale(1 1.07)">CEBPA</text>
<circle cx="240.8" cy="378.3" r="1.55" fill="#777" stroke="#111" stroke-width="1.5"/>
<path d="M242.1 377L243.7 374.9" stroke="#111" stroke-width="1.3"/>
<circle cx="243.8" cy="374.8" r="1.0" fill="#111"/>
<text x="0" y="0" font-size="8.0" text-anchor="start" fill="#1a1a1a" transform="translate(247.8 381.1) scale(1 1.07)">GATA2</text>
<rect x="240.25" y="389" width="1.1" height="4" fill="#d890a0"/>
<text x="0" y="0" font-size="8.0" text-anchor="start" fill="#1a1a1a" transform="translate(247.8 393.8) scale(1 1.07)">HDAC7</text>
<rect x="240.05" y="400.5" width="1.5" height="6.4" fill="#b84050"/>
<text x="0" y="0" font-size="8.0" text-anchor="start" fill="#1a1a1a" transform="translate(247.8 406.5) scale(1 1.07)">IGF1R</text>
<circle cx="240.8" cy="416.4" r="1.96" fill="#702030" stroke="#111" stroke-width="1.2"/>
<text x="0" y="0" font-size="8.0" text-anchor="start" fill="#1a1a1a" transform="translate(247.8 419.2) scale(1 1.07)">IKZF1</text>
<circle cx="240.8" cy="429.1" r="2.02" fill="#fff" stroke="#111" stroke-width="1"/>
<path d="M238.78 429.1A2.02 2.02 0 0 1 242.82 429.1Z" fill="#111"/>
<text x="0" y="0" font-size="8.0" text-anchor="start" fill="#1a1a1a" transform="translate(247.8 431.9) scale(1 1.07)">KDM6A</text>
<circle cx="240.8" cy="441.8" r="2.02" fill="#fff" stroke="#111" stroke-width="1"/>
<path d="M240.8 439.78A2.02 2.02 0 0 0 240.8 443.82Z" fill="#111"/>
<text x="0" y="0" font-size="8.0" text-anchor="start" fill="#1a1a1a" transform="translate(247.8 444.6) scale(1 1.07)">MEF2C</text>
<rect x="238.84" y="452.54" width="3.92" height="3.92" fill="#fff" stroke="#111" stroke-width="1"/>
<rect x="238.84" y="452.54" width="3.92" height="1.96" fill="#111"/>
<text x="0" y="0" font-size="8.0" text-anchor="start" fill="#1a1a1a" transform="translate(247.8 457.3) scale(1 1.07)">MLL</text>
<rect x="238.84" y="465.24" width="3.92" height="3.92" fill="#fff" stroke="#111" stroke-width="1"/>
<rect x="238.84" y="467.2" width="3.92" height="1.96" fill="#111"/>
<text x="0" y="0" font-size="8.0" text-anchor="start" fill="#1a1a1a" transform="translate(247.8 470) scale(1 1.07)">NF1</text>
<rect x="238.84" y="477.94" width="3.92" height="3.92" fill="#fff" stroke="#111" stroke-width="1"/>
<rect x="238.84" y="477.94" width="1.96" height="3.92" fill="#111"/>
<text x="0" y="0" font-size="8.0" text-anchor="start" fill="#1a1a1a" transform="translate(247.8 482.7) scale(1 1.07)">PTPN2</text>
<circle cx="58.8" cy="326.5" r="1.96" fill="#b0d0e0" stroke="#2a5a78" stroke-width="1.4"/>
<rect x="57.43" y="337.23" width="4.14" height="4.14" fill="#3a3e64" stroke="#1a1a34" stroke-width="1.25"/>
<polygon points="52.6,349.53 54.78,353.31 50.42,353.31" fill="#8a8e98" stroke="#1a1a22" stroke-width="1.2" stroke-linejoin="miter"/>
<polygon points="59.5,358.87 61.68,355.09 57.32,355.09" fill="#5a6078" stroke="#111" stroke-width="1.3"/>
<polygon points="52.6,357.24 55.46,360.1 52.6,362.96 49.74,360.1" fill="#3a3c68" stroke="#111" stroke-width="1.35"/>
<circle cx="63" cy="364.6" r="1.96" fill="#fff" stroke="#111" stroke-width="1.45"/>
<rect x="56.73" y="367.03" width="4.14" height="4.14" fill="#8a8e9a" stroke="#111" stroke-width="1.35"/>
<polygon points="59.5,375.43 61.68,379.21 57.32,379.21" fill="#111" stroke="#111" stroke-width="1.2" stroke-linejoin="miter"/>
<polygon points="56,498.26 58.74,501 56,503.74 53.26,501" fill="#88aab4" stroke="#111" stroke-width="1.6"/>
<polygon points="58.8,498.17 60.98,494.39 56.62,494.39" fill="#c8c8c8" stroke="#111" stroke-width="1.5"/>
<polygon points="91.7,354.33 93.88,358.11 89.52,358.11" fill="#111" stroke="#111" stroke-width="1.2" stroke-linejoin="miter"/>
<polygon points="97.9,358.87 100.08,355.09 95.72,355.09" fill="#5a6078" stroke="#111" stroke-width="1.3"/>
<polygon points="103.8,350.23 105.98,354.01 101.62,354.01" fill="#8a8e98" stroke="#1a1a22" stroke-width="1.2" stroke-linejoin="miter"/>
<circle cx="91.7" cy="365.3" r="1.96" fill="#b0d0e0" stroke="#2a5a78" stroke-width="1.4"/>
<rect x="95.83" y="363.23" width="4.14" height="4.14" fill="#8a8e9a" stroke="#111" stroke-width="1.35"/>
<circle cx="97.9" cy="373.2" r="1.96" fill="#fff" stroke="#111" stroke-width="1.45"/>
<rect x="89.63" y="375.63" width="4.14" height="4.14" fill="#3a3e64" stroke="#1a1a34" stroke-width="1.25"/>
<polygon points="104.5,374.84 107.36,377.7 104.5,380.56 101.64,377.7" fill="#3a3c68" stroke="#111" stroke-width="1.35"/>
<path d="M95.2 429H100.4M97.8 426.4V431.6" stroke="#4a8a60" stroke-width="1.3" fill="none"/>
<circle cx="97.6" cy="463.7" r="1.55" fill="#777" stroke="#111" stroke-width="1.5"/>
<path d="M98.9 462.4L100.5 460.3" stroke="#111" stroke-width="1.3"/>
<circle cx="100.6" cy="460.2" r="1.0" fill="#111"/>
<rect x="90.24" y="483.04" width="3.92" height="3.92" fill="#fff" stroke="#111" stroke-width="1"/>
<rect x="90.24" y="483.04" width="3.92" height="1.96" fill="#111"/>
<path d="M90 478.6L94 482.6M90 482.6L94 478.6" stroke="#e08040" stroke-width="1.2" fill="none"/>
<rect x="101.25" y="490.1" width="1.1" height="4" fill="#d890a0"/>
<circle cx="98" cy="486" r="1.96" fill="#702030" stroke="#111" stroke-width="1.2"/>
<rect x="81.95" y="485.6" width="1.5" height="6.4" fill="#b84050"/>
<polygon points="86.7,488.24 87.31,489.86 89.04,489.94 87.68,491.02 88.15,492.69 86.7,491.73 85.25,492.69 85.72,491.02 84.36,489.94 86.09,489.86" fill="#111"/>
<circle cx="92.2" cy="490.7" r="2.24" fill="#c02878" stroke="#c02878" stroke-width="0.4"/>
<circle cx="104.5" cy="488.3" r="2.02" fill="#fff" stroke="#111" stroke-width="1"/>
<path d="M102.48 488.3A2.02 2.02 0 0 1 106.52 488.3Z" fill="#111"/>
<circle cx="109.8" cy="488.5" r="2.02" fill="#fff" stroke="#111" stroke-width="1"/>
<path d="M109.8 486.48A2.02 2.02 0 0 0 109.8 490.52Z" fill="#111"/>
<rect x="96.34" y="491.84" width="3.92" height="3.92" fill="#fff" stroke="#111" stroke-width="1"/>
<rect x="96.34" y="493.8" width="3.92" height="1.96" fill="#111"/>
<polygon points="95.2,508.57 97.38,504.79 93.02,504.79" fill="#c8c8c8" stroke="#111" stroke-width="1.5"/>
<polygon points="102.9,503.86 105.64,506.6 102.9,509.34 100.16,506.6" fill="#88aab4" stroke="#111" stroke-width="1.6"/>
<circle cx="137" cy="355.9" r="1.96" fill="#fff" stroke="#111" stroke-width="1.45"/>
<polygon points="144.6,350.23 146.78,354.01 142.42,354.01" fill="#8a8e98" stroke="#1a1a22" stroke-width="1.2" stroke-linejoin="miter"/>
<polygon points="131.5,361.74 134.36,364.6 131.5,367.46 128.64,364.6" fill="#3a3c68" stroke="#111" stroke-width="1.35"/>
<polygon points="137.7,366.83 139.88,370.61 135.52,370.61" fill="#111" stroke="#111" stroke-width="1.2" stroke-linejoin="miter"/>
<circle cx="137" cy="386" r="1.96" fill="#b0d0e0" stroke="#2a5a78" stroke-width="1.4"/>
<circle cx="123.7" cy="493.9" r="2.02" fill="#fff" stroke="#111" stroke-width="1"/>
<path d="M121.68 493.9A2.02 2.02 0 0 1 125.72 493.9Z" fill="#111"/>
<rect x="126.83" y="491.83" width="4.14" height="4.14" fill="#3a3e64" stroke="#1a1a34" stroke-width="1.25"/>
<path d="M131.3 491.9L135.3 495.9M131.3 495.9L135.3 491.9" stroke="#e08040" stroke-width="1.2" fill="none"/>
<rect x="137.04" y="491.94" width="3.92" height="3.92" fill="#fff" stroke="#111" stroke-width="1"/>
<rect x="137.04" y="491.94" width="3.92" height="1.96" fill="#111"/>
<rect x="144.63" y="491.83" width="4.14" height="4.14" fill="#8a8e9a" stroke="#111" stroke-width="1.35"/>
<polygon points="153,496.17 155.18,492.39 150.82,492.39" fill="#5a6078" stroke="#111" stroke-width="1.3"/>
<path d="M134 498.8H139.2M136.6 496.2V501.4" stroke="#4a8a60" stroke-width="1.3" fill="none"/>
<polygon points="132.8,508.57 134.98,504.79 130.62,504.79" fill="#c8c8c8" stroke="#111" stroke-width="1.5"/>
<polygon points="140.5,503.86 143.24,506.6 140.5,509.34 137.76,506.6" fill="#88aab4" stroke="#111" stroke-width="1.6"/>
<rect x="0" y="0" width="520" height="1.4" fill="#000"/><rect x="0" y="0" width="1.3" height="567" fill="#000"/><rect x="518.3" y="0" width="1.7" height="567" fill="#000"/><rect x="0" y="565.6" width="520" height="1.4" fill="#000"/>
</svg>
</body></html>
